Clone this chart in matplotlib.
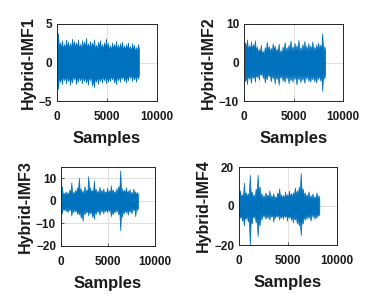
import numpy as np
import matplotlib
matplotlib.use('Agg')
import matplotlib.pyplot as plt

# ==========================================
# Data: peak (upper) and trough (lower) values read off each
# 200-sample window of the four hybrid IMFs (8192 samples each)
# ==========================================
N_SAMPLES = 8192
WINDOW = 200

IMF1_UP = [3.8, 2.6, 2.9, 2.4, 3.0, 2.7, 2.5, 3.1, 2.8, 2.6, 3.0, 2.4, 2.9, 2.7,
           3.2, 2.5, 2.8, 2.6, 3.0, 2.3, 2.7, 2.9, 2.4, 2.6, 3.1, 2.5, 2.2, 2.6,
           2.4, 2.8, 2.3, 2.5, 2.7, 2.2, 2.4, 2.6, 2.1, 2.5, 2.3, 2.0, 2.4]
IMF1_LO = [-3.4, -2.5, -2.8, -2.3, -2.7, -2.4, -2.9, -2.6, -2.2, -2.8, -2.5, -2.3,
           -2.7, -2.4, -2.6, -2.9, -2.3, -3.0, -3.2, -2.5, -2.8, -2.4, -2.6, -2.3,
           -2.7, -2.5, -2.4, -2.2, -2.6, -2.8, -2.3, -2.5, -2.1, -2.4, -2.6, -2.3,
           -2.0, -2.4, -2.2, -2.5, -2.1]

IMF2_UP = [5.2, 6.0, 4.5, 5.5, 4.8, 5.8, 4.2, 3.5, 4.6, 3.0, 4.0, 5.4, 4.3, 3.8,
           5.0, 4.4, 3.6, 4.9, 3.2, 4.1, 5.3, 4.0, 4.6, 5.7, 4.2, 5.1, 4.5, 5.9,
           4.0, 4.8, 5.6, 4.3, 5.0, 4.4, 5.5, 4.1, 4.7, 5.2, 4.6, 7.6, 4.2]
IMF2_LO = [-4.8, -5.6, -4.2, -5.3, -4.0, -5.0, -3.8, -4.5, -3.2, -4.0, -5.2, -4.4,
           -3.6, -4.9, -4.1, -5.5, -4.3, -5.8, -4.0, -4.7, -5.1, -4.2, -5.4, -4.6,
           -5.0, -4.3, -5.7, -4.4, -5.1, -4.5, -5.3, -4.2, -4.8, -5.0, -4.4, -4.9,
           -5.2, -4.3, -4.7, -7.4, -4.1]

IMF3_UP = [6.5, 3.5, 4.2, 3.8, 5.0, 8.2, 4.0, 4.8, 6.0, 10.2, 5.5, 4.5, 6.5, 5.0,
           11.0, 6.0, 4.8, 9.0, 5.2, 4.5, 6.2, 4.8, 5.5, 4.2, 5.8, 4.6, 6.8, 5.0,
           4.4, 5.6, 6.5, 13.5, 5.5, 4.8, 6.0, 4.5, 5.2, 4.0, 5.5, 4.2, 3.8]
IMF3_LO = [-5.5, -4.0, -4.5, -5.0, -4.2, -6.5, -5.0, -4.6, -5.8, -6.0, -7.5, -8.8,
           -6.0, -5.2, -6.5, -5.5, -7.0, -8.0, -5.8, -5.0, -6.2, -4.8, -5.5, -4.6,
           -5.0, -4.4, -6.8, -6.0, -5.2, -4.8, -6.0, -13.0, -7.0, -5.5, -5.0, -6.2,
           -4.8, -5.5, -4.2, -6.8, -4.0]

IMF4_UP = [8.0, 6.0, 12.0, 7.0, 6.5, 16.0, 7.5, 6.0, 9.0, 16.0, 10.0, 6.5, 5.5,
           7.0, 6.0, 8.0, 5.5, 6.5, 5.0, 7.0, 9.0, 6.0, 5.5, 7.5, 6.0, 8.0, 6.5,
           7.0, 9.5, 8.0, 10.0, 17.0, 9.0, 7.0, 6.0, 7.5, 5.5, 6.5, 5.0, 7.0, 5.5]
IMF4_LO = [-6.0, -7.5, -10.0, -6.5, -8.0, -20.0, -9.0, -6.0, -8.5, -15.5, -10.0,
           -7.0, -5.5, -6.5, -6.0, -7.0, -5.5, -8.0, -6.0, -5.5, -7.0, -6.0, -6.5,
           -5.5, -7.5, -6.0, -7.0, -8.5, -7.0, -9.0, -10.0, -15.0, -9.0, -7.0, -6.5,
           -6.0, -7.5, -5.5, -6.5, -6.0, -5.0]

LABELS = ['Hybrid-IMF1', 'Hybrid-IMF2', 'Hybrid-IMF3', 'Hybrid-IMF4']
YLIMS = [(-5, 5), (-10, 10), (-20, 15), (-20, 20)]
YTICKS = [[-5, 0, 5], [-10, 0, 10], [-20, -10, 0, 10], [-20, 0, 20]]
XTICKS = [0, 5000, 10000]

LINE_COLOR = '#0072BD'
W, H = 372, 300
# axes boxes in pixels: left, top, right, bottom
BOXES = [(57, 24, 157, 101), (244, 24, 343, 101),
         (61, 167, 155, 246), (239, 167, 337, 245)]

plt.rcParams['font.family'] = ['Liberation Sans', 'DejaVu Sans']
plt.rcParams['font.weight'] = 'bold'


def spiky_edge(vals):
    """Peaks at window centres, shallower notches at window edges."""
    vals = np.asarray(vals, dtype=float)
    n = len(vals)
    xs, ys = [0.0], [vals[0] * 0.75]
    for i in range(n):
        xs.append(i * WINDOW + WINDOW / 2)
        ys.append(vals[i])
        if i < n - 1:
            xs.append((i + 1) * WINDOW)
            ys.append(0.72 * min(vals[i], vals[i + 1], key=abs))
    xs.append(N_SAMPLES)
    ys.append(vals[-1] * 0.75)
    return np.array(xs), np.array(ys)


def main():
    fig = plt.figure(figsize=(W / 100, H / 100), dpi=100)
    series = [(IMF1_UP, IMF1_LO), (IMF2_UP, IMF2_LO),
              (IMF3_UP, IMF3_LO), (IMF4_UP, IMF4_LO)]

    for k, (up, lo) in enumerate(series):
        l, t, r, b = BOXES[k]
        ax = fig.add_axes([l / W, 1 - b / H, (r - l) / W, (b - t) / H])
        xu, yu = spiky_edge(up)
        xl, yl = spiky_edge(lo)
        ax.fill_between(xu, 0, yu, color=LINE_COLOR, lw=0.5,
                        edgecolor=LINE_COLOR)
        ax.fill_between(xl, yl, 0, color=LINE_COLOR, lw=0.5,
                        edgecolor=LINE_COLOR)

        ax.set_xlim(0, 10000)
        ax.set_ylim(*YLIMS[k])
        ax.set_xticks(XTICKS)
        ax.set_yticks(YTICKS[k])
        ax.tick_params(direction='in', length=2, width=0.5, labelsize=8.5,
                       colors='#262626')
        ax.tick_params(axis='x', pad=7.5)
        ax.tick_params(axis='y', pad=3.5)
        for lab in ax.get_xticklabels() + ax.get_yticklabels():
            lab.set_fontweight('bold')
            lab.set_color('#1a1a1a')
        ax.grid(True, color='#dcdcdc', lw=0.6)
        ax.set_axisbelow(True)
        for sp in ax.spines.values():
            sp.set_color('#262626')
            sp.set_linewidth(0.7)

        ax.set_xlabel('Samples', fontsize=12, fontweight='bold', labelpad=5.5,
                      color='#1a1a1a')
        ax.set_ylabel(LABELS[k], fontsize=11.5, fontweight='bold', labelpad=2,
                      color='#1a1a1a')

    fig.savefig('out.png', dpi=100)
    plt.close()


if __name__ == '__main__':
    main()
